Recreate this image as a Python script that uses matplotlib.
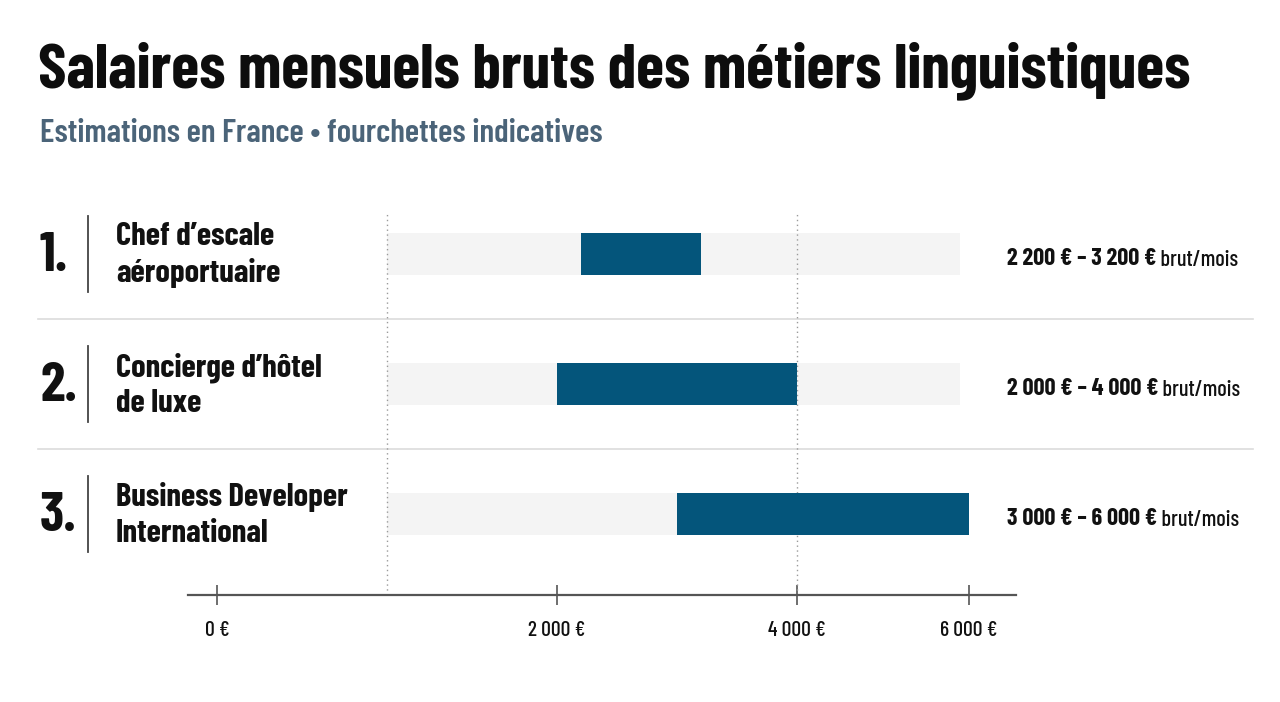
import numpy as np
import matplotlib
matplotlib.use('Agg')
import matplotlib.pyplot as plt
from matplotlib.transforms import blended_transform_factory

plt.rcParams['font.family'] = ['Barlow Condensed', 'DejaVu Sans']

# données
ranks = ['1.', '2.', '3.']
jobs = ['Chef d’escale\naéroportuaire', 'Concierge d’hôtel\nde luxe', 'Business Developer\nInternational']
low = [2200, 2000, 3000]
high = [3200, 4000, 6000]
range_labels = ['2 200 € – 3 200 €', '2 000 € – 4 000 €', '3 000 € – 6 000 €']
track_range = (1000, 5900)
guide_values = [1000, 4000]
tick_values = [0, 2000, 4000, 6000]
tick_labels = ['0 €', '2 000 €', '4 000 €', '6 000 €']

# l'axe de l'original n'est pas linéaire : échelle par morceaux calée sur les graduations
scale_vals = [-171, 0, 2000, 4000, 6000, 6547]
scale_pos = [0, 29, 369, 609, 781, 828]

def fwd(x):
    return np.interp(x, scale_vals, scale_pos)

def inv(p):
    return np.interp(p, scale_pos, scale_vals)

W, H = 1280, 702
fig = plt.figure(figsize=(W / 100, H / 100), dpi=100, facecolor='white')
ax = fig.add_axes([188 / W, (H - 595) / H, 828 / W, (595 - 213) / H])
ax.set_xscale('function', functions=(fwd, inv))
ax.set_xlim(scale_vals[0], scale_vals[-1])
ax.set_ylim(2.623, -0.315)
ax.set_facecolor('none')

rows = np.arange(len(jobs))
ax.barh(rows, track_range[1] - track_range[0], left=track_range[0], height=0.323,
        color='#f4f4f4', zorder=1)
for v in guide_values:
    ax.axvline(v, color='#9a9a9a', lw=1, ls=(0, (1, 2.5)), zorder=2)
ax.barh(rows, np.array(high) - np.array(low), left=low, height=0.323,
        color='#04557b', zorder=3)

for y in [0.5, 1.5]:
    ax.axhline(y, xmin=-0.181, xmax=1.286, color='#dcdcdc', lw=1.2, clip_on=False, zorder=0)

for s in ['top', 'right', 'left']:
    ax.spines[s].set_visible(False)
ax.spines['bottom'].set_color('#555555')
ax.spines['bottom'].set_linewidth(1.6)
ax.set_yticks([])
ax.set_xticks(tick_values)
ax.set_xticklabels(tick_labels, fontweight=500)
ax.tick_params(axis='x', direction='inout', length=15, width=1.2, color='#555555',
               pad=11, labelsize=15.5, labelcolor='#111111')

trans = blended_transform_factory(fig.transFigure, ax.transData)
for r, rank, job, lab in zip(rows, ranks, jobs, range_labels):
    ax.text(40 / W, r + 0.02, rank, transform=trans, fontsize=40, fontweight='bold',
            va='center', ha='left', color='#111111')
    ax.plot([88 / W, 88 / W], [r - 0.29, r + 0.29], transform=trans, color='#444444',
            lw=1.3, clip_on=False)
    ax.text(116 / W, r + 0.01, job, transform=trans, fontsize=23.5, fontweight=700,
            va='center', ha='left', color='#111111', linespacing=1.3)
    t = ax.text(1007 / W, r + 0.04, lab, transform=trans, fontsize=17.5, fontweight='bold',
                va='center', ha='left', color='#111111')
    ax.annotate(' brut/mois', xy=(1, 0), xycoords=t, va='bottom', ha='left',
                fontsize=16, fontweight=500, color='#111111')

fig.text(38 / W, 1 - 87 / H, 'Salaires mensuels bruts des métiers linguistiques',
         fontsize=46, fontweight=700, color='#0d0d0d', va='baseline')
fig.text(40 / W, 1 - 142 / H, 'Estimations en France • fourchettes indicatives',
         fontsize=24, fontweight=600, color='#4b6479', va='baseline')

fig.savefig('out.png', dpi=100, facecolor='white')
